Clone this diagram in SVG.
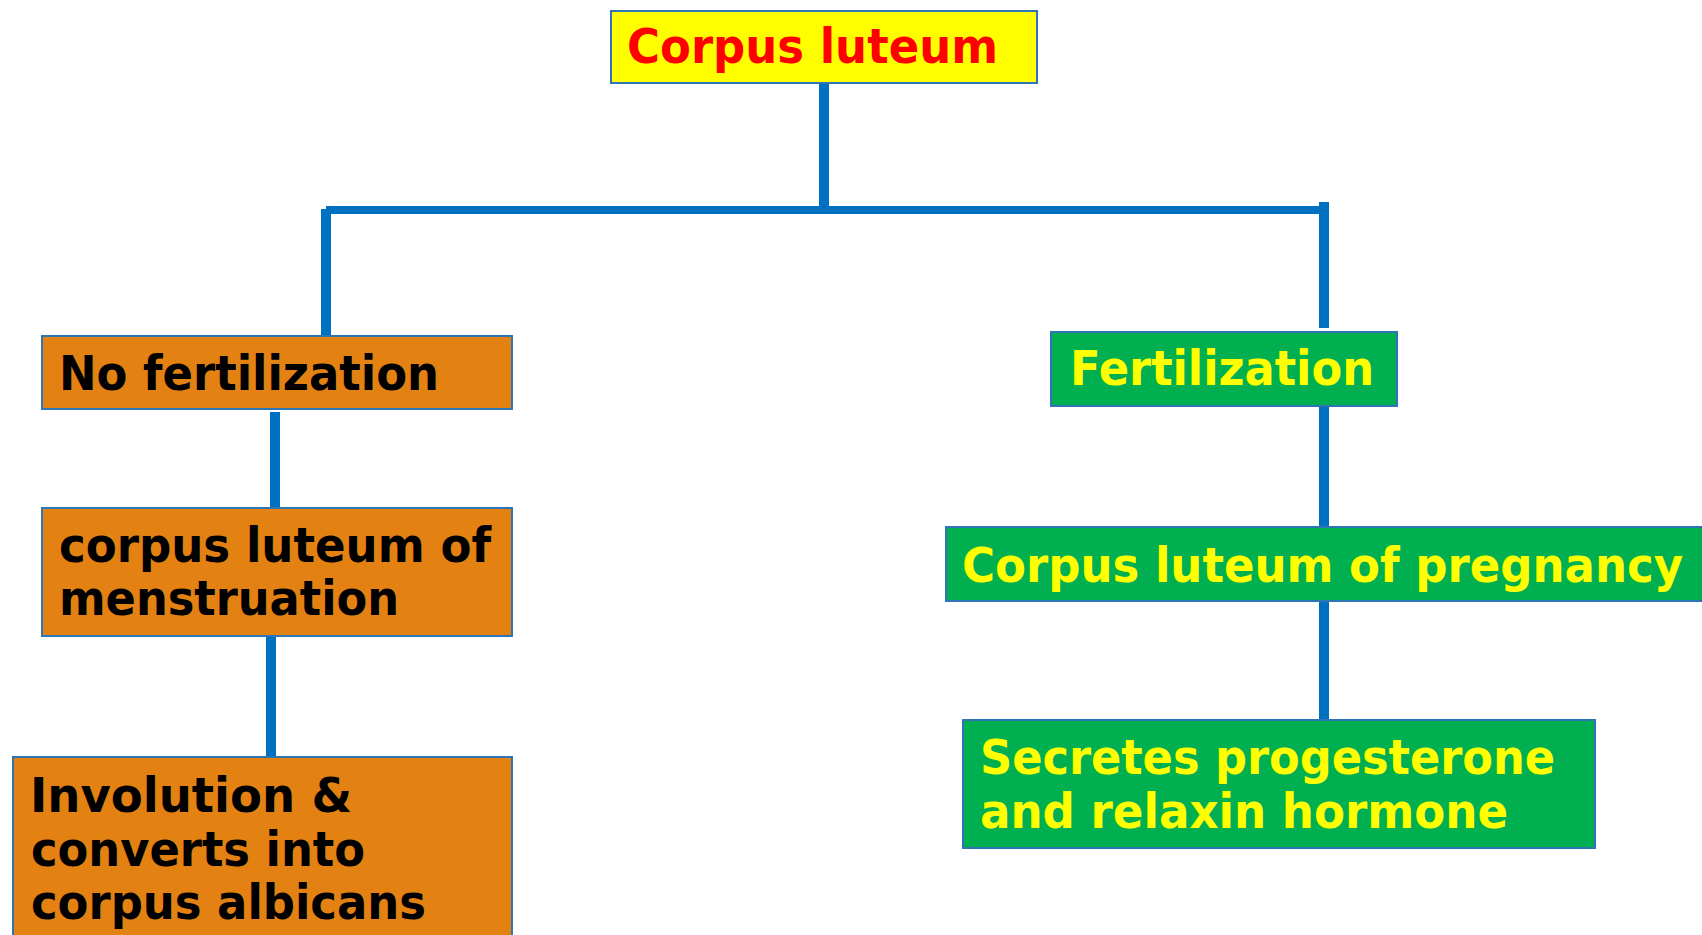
<svg xmlns="http://www.w3.org/2000/svg" width="1702" height="935" viewBox="0 0 1702 935">
<style>
.box{stroke:#2E75B6;stroke-width:2}
.orange{fill:#E38213}
.green{fill:#00B050}
.yellow{fill:#FFFF00}
.t{font-family:"DejaVu Sans","Verdana",sans-serif;font-weight:bold;font-size:48px}
.tb{fill:#000000}
.ty{fill:#FFFF00}
.tr{fill:#FF0000}
.c{stroke:#0070C0;stroke-width:10;fill:none}
</style>
<rect width="1702" height="935" fill="#FFFFFF"/>
<g id="connectors">
<line class="c" x1="824" y1="83" x2="824" y2="210"/>
<line class="c" x1="326" y1="210" x2="1329" y2="210" style="stroke-width:8"/>
<line class="c" x1="326" y1="209" x2="326" y2="336"/>
<line class="c" x1="1324" y1="202" x2="1324" y2="328"/>
<line class="c" x1="275" y1="412" x2="275" y2="508"/>
<line class="c" x1="271" y1="636" x2="271" y2="757"/>
<line class="c" x1="1324" y1="407" x2="1324" y2="533"/>
<line class="c" x1="1324" y1="594" x2="1324" y2="720"/>
</g>
<g id="node-corpus-luteum">
<rect class="box yellow" x="611" y="11" width="426" height="72"/>
<text class="t tr" x="627" y="63" textLength="371" lengthAdjust="spacingAndGlyphs">Corpus luteum</text>
</g>
<g id="node-no-fertilization">
<rect class="box orange" x="42" y="336" width="470" height="73"/>
<text class="t tb" x="59" y="390" textLength="380" lengthAdjust="spacingAndGlyphs">No fertilization</text>
</g>
<g id="node-menstruation">
<rect class="box orange" x="42" y="508" width="470" height="128"/>
<text class="t tb" x="59" y="562" textLength="432" lengthAdjust="spacingAndGlyphs">corpus luteum of</text>
<text class="t tb" x="59" y="615" textLength="340" lengthAdjust="spacingAndGlyphs">menstruation</text>
</g>
<g id="node-involution">
<rect class="box orange" x="13" y="757" width="499" height="190"/>
<text class="t tb" x="30" y="812" textLength="322" lengthAdjust="spacingAndGlyphs">Involution &amp;</text>
<text class="t tb" x="31" y="866" textLength="334" lengthAdjust="spacingAndGlyphs">converts into</text>
<text class="t tb" x="31" y="919" textLength="395" lengthAdjust="spacingAndGlyphs">corpus albicans</text>
</g>
<g id="node-fertilization">
<rect class="box green" x="1051" y="332" width="346" height="74"/>
<text class="t ty" x="1070" y="385" textLength="304" lengthAdjust="spacingAndGlyphs">Fertilization</text>
</g>
<g id="node-pregnancy">
<rect class="box green" x="946" y="527" width="760" height="74"/>
<text class="t ty" x="962" y="582" textLength="721" lengthAdjust="spacingAndGlyphs">Corpus luteum of pregnancy</text>
</g>
<g id="node-secretes">
<rect class="box green" x="963" y="720" width="632" height="128"/>
<text class="t ty" x="980" y="774" textLength="575" lengthAdjust="spacingAndGlyphs">Secretes progesterone</text>
<text class="t ty" x="980" y="828" textLength="528" lengthAdjust="spacingAndGlyphs">and relaxin hormone</text>
</g>
</svg>
